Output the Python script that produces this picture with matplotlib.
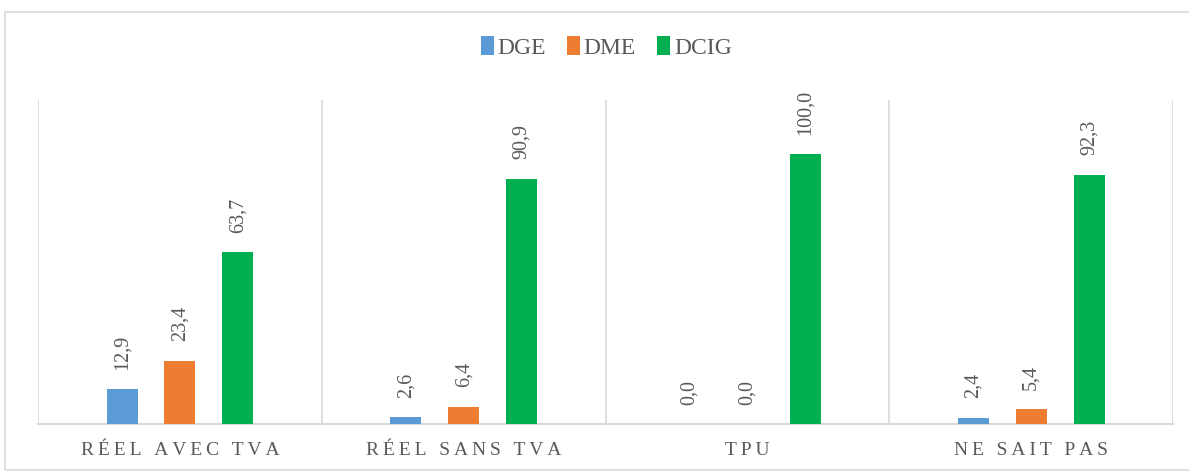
import numpy as np
import matplotlib as mpl
import matplotlib.pyplot as plt
from matplotlib.patches import Rectangle

#---------------------------------------------------------------------------------------------------
# Data
#---------------------------------------------------------------------------------------------------

categories = ['RÉEL AVEC TVA', 'RÉEL SANS TVA', 'TPU', 'NE SAIT PAS']
series_names = ['DGE', 'DME', 'DCIG']
dge = [12.9, 2.6, 0.0, 2.4]
dme = [23.4, 6.4, 0.0, 5.4]
dcig = [63.7, 90.9, 100.0, 92.3]

colors = ['#5B9BD5', '#ED7D31', '#00B050']
text_gray = '#595959'
grid_gray = '#D9D9D9'

mpl.rcParams['font.family'] = ['Liberation Serif', 'DejaVu Serif']

#---------------------------------------------------------------------------------------------------
# Plot
#---------------------------------------------------------------------------------------------------

fig = plt.figure(figsize=(11.89, 4.71), dpi=100)
ax = fig.add_axes((0.032, 0.0998, 0.9546, 0.688))

# chart border
fig.patches.append(Rectangle((0.004, 0.003), 1.2, 0.972, transform=fig.transFigure,
                             fill=False, edgecolor=grid_gray, linewidth=1.2))

x = np.arange(len(categories))
offset = 0.204
width = 0.109
values = [dge, dme, dcig]

for k, (vals, name, col) in enumerate(zip(values, series_names, colors)):
    pos = x + (k - 1) * offset
    ax.bar(pos, vals, width=width, color=col, label=name, zorder=3)
    for xp, v in zip(pos, vals):
        ax.annotate('{:.1f}'.format(v).replace('.', ','), (xp, v), xytext=(0, 14),
                    textcoords='offset points', rotation=90, ha='center', va='bottom',
                    fontsize=14.5, color=text_gray)

ax.set_xlim(-0.5, len(categories) - 0.5)
ax.set_ylim(0, 120)
ax.set_yticks([])

# vertical separators between categories
for b in np.arange(-0.5, len(categories), 1.0):
    ax.axvline(b, color=grid_gray, linewidth=1.2, zorder=1)

for s in ['top', 'left', 'right']:
    ax.spines[s].set_visible(False)
ax.spines['bottom'].set_color(grid_gray)
ax.spines['bottom'].set_linewidth(1.5)

spaced = ['\u2009'.join(c) for c in categories]
ax.set_xticks(x)
ax.set_xticklabels(spaced, fontsize=14, color=text_gray)
ax.tick_params(axis='x', length=0, pad=13)

fig.legend(loc='center', bbox_to_anchor=(0.51, 0.90), ncol=3, frameon=False,
           fontsize=17, labelcolor=text_gray, handlelength=0.55, handleheight=0.9,
           handletextpad=0.15, columnspacing=0.9)

fig.savefig('out.png', dpi=100)
